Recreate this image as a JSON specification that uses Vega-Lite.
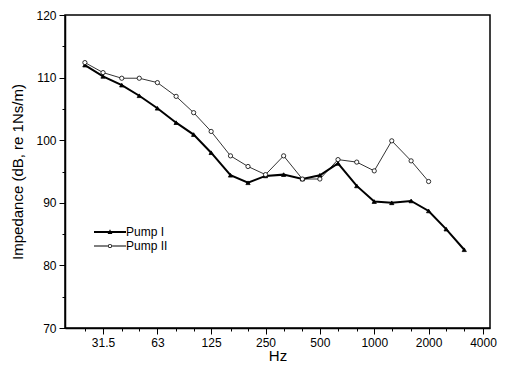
{
  "$schema": "https://vega.github.io/schema/vega-lite/v6.json",
  "width": 425,
  "height": 313,
  "autosize": {"type": "none"},
  "padding": {"left": 65, "top": 15, "right": 16, "bottom": 44},
  "background": "white",
  "config": {
    "font": "Liberation Sans",
    "view": {"stroke": "black", "strokeWidth": 1.5},
    "axis": {
      "grid": false,
      "domainColor": "black",
      "domainWidth": 1.5,
      "tickColor": "black",
      "tickWidth": 1,
      "labelColor": "black",
      "labelFontSize": 12,
      "titleColor": "black",
      "titleFontWeight": "normal"
    }
  },
  "data": {
    "values": [
      {"freq": 25, "pump": "Pump I", "z": 112.0},
      {"freq": 31.5, "pump": "Pump I", "z": 110.2},
      {"freq": 40, "pump": "Pump I", "z": 108.8},
      {"freq": 50, "pump": "Pump I", "z": 107.1},
      {"freq": 63, "pump": "Pump I", "z": 105.1},
      {"freq": 80, "pump": "Pump I", "z": 102.8},
      {"freq": 100, "pump": "Pump I", "z": 100.9},
      {"freq": 125, "pump": "Pump I", "z": 98.0},
      {"freq": 160, "pump": "Pump I", "z": 94.4},
      {"freq": 200, "pump": "Pump I", "z": 93.2},
      {"freq": 250, "pump": "Pump I", "z": 94.3},
      {"freq": 315, "pump": "Pump I", "z": 94.5},
      {"freq": 400, "pump": "Pump I", "z": 93.8},
      {"freq": 500, "pump": "Pump I", "z": 94.4},
      {"freq": 630, "pump": "Pump I", "z": 96.3},
      {"freq": 800, "pump": "Pump I", "z": 92.7},
      {"freq": 1000, "pump": "Pump I", "z": 90.2},
      {"freq": 1250, "pump": "Pump I", "z": 90.0},
      {"freq": 1600, "pump": "Pump I", "z": 90.3},
      {"freq": 2000, "pump": "Pump I", "z": 88.7},
      {"freq": 2500, "pump": "Pump I", "z": 85.8},
      {"freq": 3150, "pump": "Pump I", "z": 82.5},
      {"freq": 25, "pump": "Pump II", "z": 112.4},
      {"freq": 31.5, "pump": "Pump II", "z": 110.8},
      {"freq": 40, "pump": "Pump II", "z": 109.9},
      {"freq": 50, "pump": "Pump II", "z": 109.9},
      {"freq": 63, "pump": "Pump II", "z": 109.2},
      {"freq": 80, "pump": "Pump II", "z": 107.0},
      {"freq": 100, "pump": "Pump II", "z": 104.4},
      {"freq": 125, "pump": "Pump II", "z": 101.4},
      {"freq": 160, "pump": "Pump II", "z": 97.5},
      {"freq": 200, "pump": "Pump II", "z": 95.8},
      {"freq": 250, "pump": "Pump II", "z": 94.5},
      {"freq": 315, "pump": "Pump II", "z": 97.5},
      {"freq": 400, "pump": "Pump II", "z": 93.8},
      {"freq": 500, "pump": "Pump II", "z": 93.8},
      {"freq": 630, "pump": "Pump II", "z": 96.9},
      {"freq": 800, "pump": "Pump II", "z": 96.5},
      {"freq": 1000, "pump": "Pump II", "z": 95.1},
      {"freq": 1250, "pump": "Pump II", "z": 99.9},
      {"freq": 1600, "pump": "Pump II", "z": 96.7},
      {"freq": 2000, "pump": "Pump II", "z": 93.4}
    ]
  },
  "encoding": {
    "x": {
      "field": "freq",
      "type": "quantitative",
      "scale": {"type": "log", "domain": [19.4, 4374], "nice": false},
      "axis": {
        "title": "Hz",
        "titleFontSize": 15,
        "titlePadding": 0,
        "values": [25, 31.5, 40, 50, 63, 80, 100, 125, 160, 200, 250, 315, 400, 500, 630, 800, 1000, 1250, 1600, 2000, 2500, 3150, 4000],
        "labelExpr": "indexof([31.5,63,125,250,500,1000,2000,4000], datum.value) >= 0 ? '' + datum.value : ''",
        "tickSize": {"condition": {"test": "indexof([31.5,63,125,250,500,1000,2000,4000], datum.value) >= 0", "value": 6}, "value": 3},
        "labelPadding": 3,
        "labelFlush": false,
        "labelOverlap": false
      }
    },
    "y": {
      "field": "z",
      "type": "quantitative",
      "scale": {"domain": [70, 120], "nice": false, "zero": false},
      "axis": {
        "title": "Impedance (dB, re 1Ns/m)",
        "titleFontSize": 15,
        "titlePadding": 10,
        "values": [70, 75, 80, 85, 90, 95, 100, 105, 110, 115, 120],
        "labelExpr": "datum.value % 10 === 0 ? '' + datum.value : ''",
        "tickSize": {"condition": {"test": "datum.value % 10 === 0", "value": 6}, "value": 3},
        "labelPadding": 3,
        "labelFlush": false,
        "labelOverlap": false
      }
    }
  },
  "layer": [
    {
      "mark": {"type": "line", "color": "black"},
      "encoding": {
        "detail": {"field": "pump"},
        "strokeWidth": {"condition": {"test": "datum.pump === 'Pump I'", "value": 2}, "value": 0.8}
      }
    },
    {
      "mark": {"type": "point", "filled": true, "stroke": "black", "strokeWidth": 0.8, "opacity": 1, "size": 18},
      "encoding": {
        "shape": {"condition": {"test": "datum.pump === 'Pump I'", "value": "triangle-up"}, "value": "circle"},
        "fill": {"condition": {"test": "datum.pump === 'Pump I'", "value": "black"}, "value": "white"}
      }
    },
    {
      "mark": {"type": "point", "filled": true, "color": "black", "opacity": 0},
      "encoding": {
        "shape": {
          "field": "pump",
          "type": "nominal",
          "scale": {"domain": ["Pump I", "Pump II"], "range": ["M-3.2,-0.2H3.2V0.2H-3.2ZM0,-0.55L0.48,0.38L-0.48,0.38Z", "M-3.2,-0.08H-0.42V0.08H-3.2ZM0.42,-0.08H3.2V0.08H0.42ZM-0.42,0A0.42,0.42 0 1,0 0.42,0A0.42,0.42 0 1,0 -0.42,0ZM-0.27,0A0.27,0.27 0 1,1 0.27,0A0.27,0.27 0 1,1 -0.27,0Z"]},
          "legend": {
            "title": null,
            "orient": "none",
            "legendX": 39,
            "legendY": 211,
            "labelFontSize": 12,
            "labelColor": "black",
            "symbolSize": 100,
            "symbolOpacity": 1,
            "symbolFillColor": "black",
            "rowPadding": 2,
            "labelOffset": 10
          }
        }
      }
    }
  ]
}
